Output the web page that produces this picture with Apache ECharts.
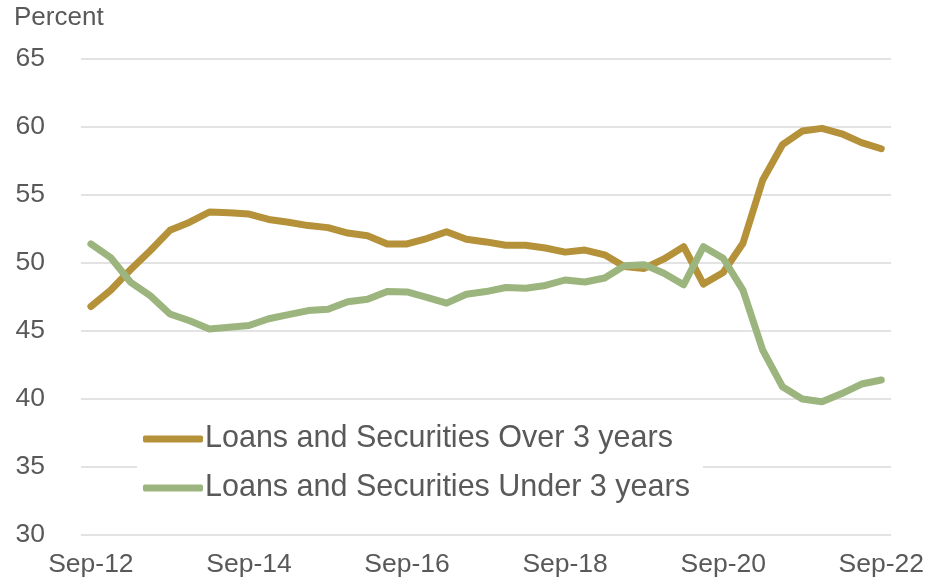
<!DOCTYPE html>
<html>
<head>
<meta charset="utf-8">
<script src="https://cdn.jsdelivr.net/npm/echarts@6/dist/echarts.min.js"></script>
<style>
html,body{margin:0;padding:0;background:#fff;}
#chart{width:927px;height:583px;}
</style>
</head>
<body>
<div id="chart"></div>
<script>
var categories = ['Sep-12','Dec-12','Mar-13','Jun-13','Sep-13','Dec-13','Mar-14','Jun-14','Sep-14','Dec-14','Mar-15','Jun-15','Sep-15','Dec-15','Mar-16','Jun-16','Sep-16','Dec-16','Mar-17','Jun-17','Sep-17','Dec-17','Mar-18','Jun-18','Sep-18','Dec-18','Mar-19','Jun-19','Sep-19','Dec-19','Mar-20','Jun-20','Sep-20','Dec-20','Mar-21','Jun-21','Sep-21','Dec-21','Mar-22','Jun-22','Sep-22'];
var overThree = [46.8,48.0,49.5,50.9,52.4,53.0,53.75,53.7,53.6,53.2,53.0,52.75,52.6,52.2,52.0,51.4,51.4,51.8,52.3,51.75,51.55,51.3,51.3,51.1,50.8,50.95,50.6,49.75,49.6,50.3,51.2,48.45,49.3,51.45,56.1,58.7,59.7,59.9,59.5,58.85,58.4];
var underThree = [51.4,50.4,48.6,47.6,46.25,45.75,45.15,45.27,45.4,45.9,46.2,46.5,46.6,47.15,47.33,47.9,47.87,47.48,47.05,47.7,47.9,48.2,48.15,48.35,48.75,48.6,48.9,49.8,49.88,49.25,48.4,51.2,50.35,48.0,43.6,40.9,40.0,39.8,40.4,41.1,41.4];
var seriesNames = ['Loans and Securities Over 3 years','Loans and Securities Under 3 years'];
var yTicks = {min:30, max:65, interval:5};

var FONT = '"Liberation Sans Narrow","Arial Narrow","Liberation Sans",Arial,sans-serif';
var TXT = '#595959';
var chart = echarts.init(document.getElementById('chart'), null, {renderer:'canvas'});
chart.setOption({
  animation:false,
  backgroundColor:'#fff',
  grid:{left:81, right:35, top:59, bottom:48, containLabel:false},
  graphic:[{type:'text', left:14, top:5, style:{text:'Percent', fontFamily:FONT, fontSize:26, fill:TXT}}],
  legend:{
    orient:'vertical', left:137, top:415,
    padding:[6,13,6,6],
    backgroundColor:'#fff',
    itemWidth:60, itemHeight:7, itemGap:13,
    icon:'roundRect',
    textStyle:{fontFamily:FONT, fontSize:30.5, color:TXT, lineHeight:36, padding:[0,0,0,-3]},
    data:seriesNames
  },
  xAxis:{
    type:'category', data:categories, boundaryGap:true,
    axisLine:{show:false}, axisTick:{show:false},
    axisLabel:{interval:7, fontFamily:FONT, fontSize:26.5, color:TXT, margin:16},
    splitLine:{show:false}
  },
  yAxis:{
    type:'value', min:yTicks.min, max:yTicks.max, interval:yTicks.interval,
    axisLine:{show:false}, axisTick:{show:false},
    axisLabel:{fontFamily:FONT, fontSize:26.5, color:TXT, margin:36},
    splitLine:{lineStyle:{color:'#e3e3e3', width:2}}
  },
  series:[
    {name:seriesNames[0], type:'line', data:overThree, symbol:'none', lineStyle:{color:'#B5923A', width:7, cap:'round', join:'round'}, itemStyle:{color:'#B5923A'}},
    {name:seriesNames[1], type:'line', data:underThree, symbol:'none', lineStyle:{color:'#9CB57E', width:7, cap:'round', join:'round'}, itemStyle:{color:'#9CB57E'}}
  ]
});
</script>
</body>
</html>
